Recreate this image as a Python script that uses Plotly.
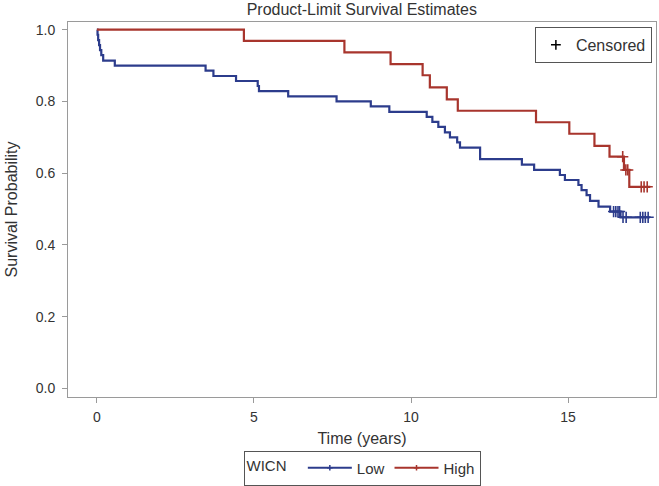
import plotly.graph_objects as go

# ---- data ----
low_t = [0, 0.02, 0.04, 0.07, 0.10, 0.14, 0.20, 0.57, 3.46, 3.71, 4.43, 5.12, 5.16, 6.09, 7.63, 8.72, 9.31,
         10.50, 10.68, 10.87, 11.08, 11.24, 11.47, 11.56, 12.20, 13.53, 13.92, 14.74, 14.90, 15.33, 15.43,
         15.59, 15.70, 15.97, 16.34, 16.67, 17.60]
low_s = [1.0, 0.986, 0.971, 0.957, 0.943, 0.929, 0.914, 0.900, 0.886, 0.871, 0.857, 0.843, 0.829, 0.814,
         0.800, 0.786, 0.771, 0.757, 0.743, 0.729, 0.714, 0.700, 0.686, 0.671, 0.639, 0.624, 0.609, 0.595,
         0.581, 0.567, 0.553, 0.539, 0.523, 0.507, 0.493, 0.477, 0.477]
low_cens_t = [16.45, 16.52, 16.59, 16.64, 16.75, 16.85, 17.30, 17.38, 17.46, 17.55]
low_cens_s = [0.493, 0.493, 0.493, 0.493, 0.477, 0.477, 0.477, 0.477, 0.477, 0.477]

high_t = [0, 4.68, 7.88, 9.35, 10.37, 10.60, 11.14, 11.49, 13.98, 15.04, 15.84, 16.32, 16.78, 16.95, 17.62]
high_s = [1.0, 0.969, 0.937, 0.904, 0.873, 0.839, 0.806, 0.774, 0.742, 0.710, 0.676, 0.646, 0.609, 0.562, 0.562]
high_cens_t = [16.74, 16.84, 16.90, 17.33, 17.42, 17.52]
high_cens_s = [0.646, 0.609, 0.609, 0.562, 0.562, 0.562]

x_ticks = [0, 5, 10, 15]
y_ticks = [0.0, 0.2, 0.4, 0.6, 0.8, 1.0]

BLUE = "#2C3C8C"
RED = "#A8352D"
FONT = "Liberation Sans, Arial, sans-serif"
GRAY = "#9A9A9A"
TXT = "#333333"

fig = go.Figure()

for t, s, ct, cs, col in [
    (low_t, low_s, low_cens_t, low_cens_s, BLUE),
    (high_t, high_s, high_cens_t, high_cens_s, RED),
]:
    fig.add_trace(go.Scatter(x=t, y=s, mode="lines", line=dict(shape="hv", color=col, width=2.2),
                             showlegend=False, hoverinfo="skip"))
    fig.add_trace(go.Scatter(x=ct, y=cs, mode="markers",
                             marker=dict(symbol="cross-thin", size=8, line=dict(color=col, width=1.6)),
                             showlegend=False, hoverinfo="skip"))

# legend entries for the strata
for col, name in [(BLUE, "Low"), (RED, "High")]:
    fig.add_trace(go.Scatter(x=[None], y=[None], mode="lines+markers", name=name,
                             line=dict(color=col, width=2),
                             marker=dict(symbol="cross-thin", size=4, line=dict(color=col, width=1.5)),
                             legend="legend"))

# censored legend
fig.add_trace(go.Scatter(x=[None], y=[None], mode="markers", name="Censored",
                         marker=dict(symbol="cross-thin", size=7, line=dict(color="black", width=1.5)),
                         legend="legend2"))

fig.update_layout(
    width=659, height=486,
    margin=dict(l=68, r=3, t=22, b=89, autoexpand=False),
    paper_bgcolor="white", plot_bgcolor="white",
    font=dict(family=FONT, size=14, color=TXT),
    title=dict(text="Product-Limit Survival Estimates", x=0.549, xanchor="center",
               y=0.9815, yanchor="middle", font=dict(size=16, color=TXT)),
    xaxis=dict(range=[-0.92, 17.80], tickvals=x_ticks, ticks="outside", ticklen=5, tickcolor=GRAY,
               showline=True, linecolor=GRAY, linewidth=1, mirror=True, showgrid=False, zeroline=False,
               ticklabelstandoff=2, automargin=False,
               title=dict(text="Time (years)", standoff=9, font=dict(size=16, color=TXT)),
               tickfont=dict(size=14, color=TXT)),
    yaxis=dict(range=[-0.024, 1.0215], tickvals=y_ticks, tickformat=".1f", ticks="outside", ticklen=5,
               tickcolor=GRAY, showline=True, linecolor=GRAY, linewidth=1, mirror=True, showgrid=False,
               zeroline=False, ticklabelstandoff=4, automargin=False,
               title=dict(text="Survival Probability", standoff=14, font=dict(size=16, color=TXT)),
               tickfont=dict(size=14, color=TXT)),
    legend=dict(orientation="h", x=0.5, xanchor="center", y=-0.236, yanchor="bottom",
                title=dict(text="WICN  ", side="left", font=dict(size=15)), bordercolor="#555555",
                borderwidth=1, font=dict(size=15, color=TXT), itemwidth=44, bgcolor="white",
                tracegroupgap=0),
    legend2=dict(x=0.993, xanchor="right", y=0.987, yanchor="top", bordercolor="#555555", borderwidth=1,
                 font=dict(size=16, color=TXT), bgcolor="white", itemwidth=30),
)

fig.write_html("out.html")
